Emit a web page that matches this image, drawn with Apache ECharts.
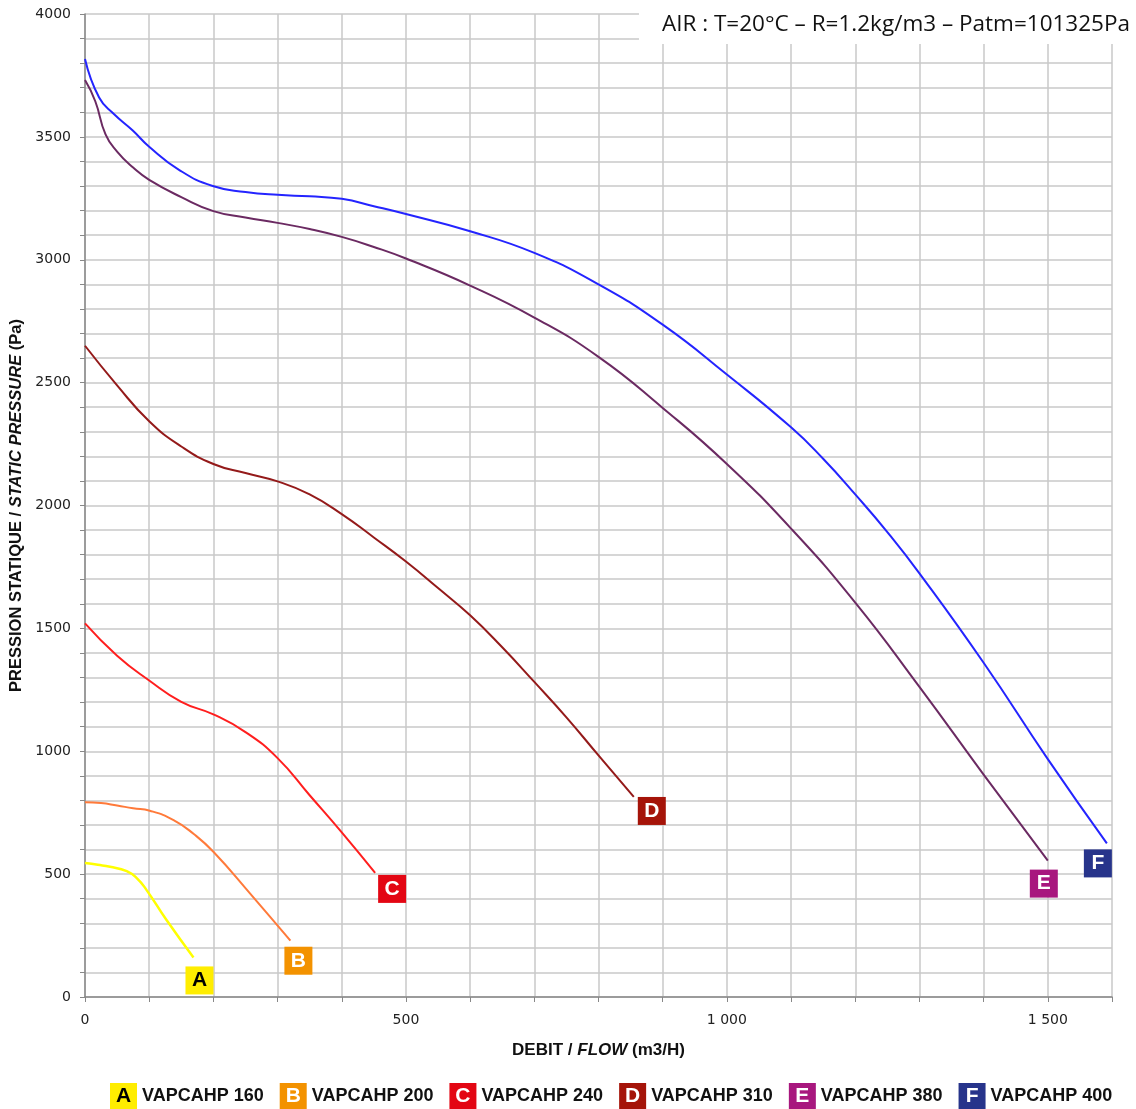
<!DOCTYPE html>
<html>
<head>
<meta charset="utf-8">
<script src="https://cdn.jsdelivr.net/npm/echarts@6/dist/echarts.min.js"></script>
<style>
html,body{margin:0;padding:0;background:#fff;}
#chart{width:1136px;height:1109px;}
</style>
</head>
<body>
<div id="chart"></div>
<script>
// ---- data (flow m3/h, static pressure Pa) ----
const seriesNames = ['VAPCAHP 160','VAPCAHP 200','VAPCAHP 240','VAPCAHP 310','VAPCAHP 380','VAPCAHP 400'];
const seriesLetters = ['A','B','C','D','E','F'];
const curveA = [[0,545],[20,538],[39,530],[65,512],[81,483],[96,435],[127,313],[169,161]];
const curveB = [[0,792],[25,789],[50,779],[75,768],[101,758],[138,720],[170,662],[200,591],[257,422],[320,229]];
const curveC = [[0,1520],[50,1389],[100,1288],[150,1201],[200,1150],[250,1078],[300,972],[350,821],[400,670],[452,505]];
const curveD = [[0,2650],[50,2489],[100,2343],[150,2240],[200,2169],[250,2132],[300,2098],[350,2045],[400,1965],[450,1870],[500,1772],[550,1664],[600,1553],[650,1423],[700,1282],[750,1138],[800,983],[855,814]];
const curveE = [[0,3731],[16,3645],[32,3510],[50,3440],[75,3375],[100,3325],[150,3255],[200,3198],[250,3172],[300,3150],[350,3125],[400,3093],[450,3052],[500,3005],[600,2895],[700,2765],[800,2605],[900,2397],[1000,2169],[1100,1906],[1200,1605],[1300,1262],[1400,905],[1500,555]];
const curveF = [[0,3817],[22,3660],[45,3593],[74,3527],[100,3460],[147,3365],[199,3300],[250,3276],[300,3264],[350,3258],[400,3248],[450,3218],[500,3186],[600,3116],[700,3028],[800,2900],[900,2736],[1000,2533],[1100,2318],[1150,2190],[1200,2045],[1250,1892],[1300,1724],[1400,1360],[1500,968],[1592,625]];
const xTickLabels = {0:'0',500:'500',1000:'1 000',1500:'1 500'};
const yTickLabels = [0,500,1000,1500,2000,2500,3000,3500,4000];
const noteText = 'AIR : T=20°C – R=1.2kg/m3 – Patm=101325Pa';

// ---- styles ----
const curves = [curveA,curveB,curveC,curveD,curveE,curveF];
const lineColors = ['#ffff00','#ff7a3a','#ff1e1e','#941a1a','#6b2a62','#2424ff'];
const boxColors = ['#ffed00','#f39200','#e30613','#a51409','#a8177e','#27348b'];
const letterColors = ['#000','#fff','#fff','#fff','#fff','#fff'];
const boxOffsets = [[6,23],[8,20],[17,16],[18,14],[-4,23],[-9,20]];

const rich = {t:{fontFamily:'Liberation Sans',fontWeight:'bold',fontSize:18,color:'#111',padding:[0,0,0,5]}};
seriesLetters.forEach((l,i)=>{
  rich['k'+l] = {backgroundColor:boxColors[i],color:letterColors[i],fontFamily:'Liberation Sans',fontWeight:'bold',fontSize:21,width:27,height:26,lineHeight:26,align:'center'};
});

const series = curves.map((c,i)=>({
  name: seriesNames[i],
  type:'line',
  data:c,
  smooth:0.5,
  showSymbol:false,
  symbol:'none',
  lineStyle:{color:lineColors[i],width:i===0?2.5:2},
  itemStyle:{color:boxColors[i]},
  silent:true,
  markPoint:{
    silent:true,
    animation:false,
    data:[{
      coord:c[c.length-1],
      symbol:'rect',
      symbolSize:[28,28],
      symbolOffset:boxOffsets[i],
      itemStyle:{color:boxColors[i]},
      label:{show:true,position:'inside',formatter:seriesLetters[i],color:letterColors[i],fontFamily:'Liberation Sans',fontWeight:'bold',fontSize:21}
    }]
  }
}));

const chart = echarts.init(document.getElementById('chart'),null,{renderer:'canvas'});
chart.setOption({
  animation:false,
  backgroundColor:'#fff',
  title:{
    text:noteText,
    right:0,top:0,
    backgroundColor:'#fff',
    padding:[13,6,8,23],
    textStyle:{fontFamily:'Open Sans',fontSize:22.5,fontWeight:'normal',color:'#111'}
  },
  legend:{
    top:1078,left:100,
    icon:'none',itemWidth:0,itemHeight:0,itemGap:11,
    selectedMode:false,
    data:seriesNames,
    formatter:function(name){const i=seriesNames.indexOf(name);return '{k'+seriesLetters[i]+'|'+seriesLetters[i]+'}{t|'+name+'}';},
    textStyle:{rich:rich}
  },
  grid:{left:85,right:24,top:14,bottom:112,containLabel:false,outerBoundsMode:'none'},
  xAxis:{
    type:'value',min:0,max:1600,interval:100,
    name:'{b|DEBIT / }{i|FLOW}{b| (m3/H)}',
    nameLocation:'middle',nameGap:45,
    nameTextStyle:{rich:{
      b:{fontFamily:'Liberation Sans',fontWeight:'bold',fontSize:17,color:'#111'},
      i:{fontFamily:'Liberation Sans',fontWeight:'bold',fontStyle:'italic',fontSize:17,color:'#111'}
    }},
    axisLine:{show:true,lineStyle:{color:'#888',width:1.5}},
    axisTick:{show:true,length:5,lineStyle:{color:'#888'}},
    axisLabel:{margin:16,fontFamily:'DejaVu Sans',fontSize:14,color:'#222',
      formatter:function(v){return xTickLabels[v]!==undefined?xTickLabels[v]:'';}},
    splitLine:{show:true,lineStyle:{color:'#c8c8c8',width:1.5}}
  },
  yAxis:{
    type:'value',min:0,max:4000,interval:100,
    name:'{b|PRESSION STATIQUE / }{i|STATIC PRESSURE}{b| (Pa)}',
    nameLocation:'middle',nameGap:58,nameRotate:90,
    nameTextStyle:{rich:{
      b:{fontFamily:'Liberation Sans',fontWeight:'bold',fontSize:16.5,color:'#111'},
      i:{fontFamily:'Liberation Sans',fontWeight:'bold',fontStyle:'italic',fontSize:16.5,color:'#111'}
    }},
    axisLine:{show:true,lineStyle:{color:'#888',width:1.5}},
    axisTick:{show:true,length:5,lineStyle:{color:'#888'}},
    axisLabel:{margin:14,fontFamily:'DejaVu Sans',fontSize:14,color:'#222',
      formatter:function(v){return yTickLabels.indexOf(v)>=0?String(v):'';}},
    splitLine:{show:true,lineStyle:{color:'#c8c8c8',width:1.5}}
  },
  series:series
});
</script>
</body>
</html>
